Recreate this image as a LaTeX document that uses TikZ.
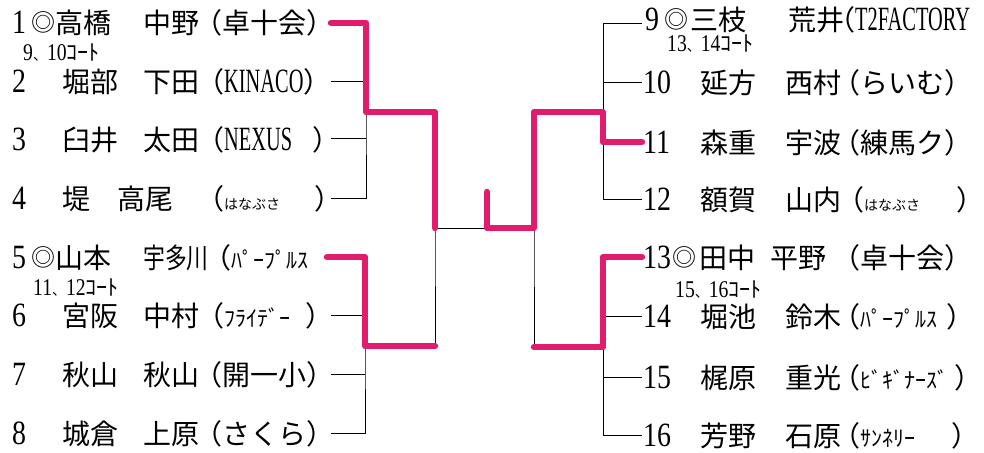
\documentclass[tikz,border=0pt]{standalone}
\usepackage{fontspec}
\setmainfont{Liberation Serif}
\newfontfamily\jp{Noto Sans CJK JP}
\newfontfamily\jpn[FakeStretch=0.78]{Noto Sans CJK JP}
\newfontfamily\num[FakeStretch=0.82]{Liberation Serif}
\newfontfamily\lat[FakeStretch=0.6]{Liberation Serif}
\usetikzlibrary{calc}

\definecolor{marker}{RGB}{226,28,108}
\tikzset{
  txt/.style={anchor=base west, inner sep=0pt, font=\jp\fontsize{28}{28}\selectfont},
  narrow/.style={txt, font=\jpn\fontsize{28}{28}\selectfont},
  seed/.style={anchor=base west, inner sep=0pt, font=\jp\fontsize{24}{24}\selectfont},
  no/.style={anchor=base west, inner sep=0pt, font=\num\fontsize{34}{34}\selectfont},
  court/.style={anchor=base west, inner sep=0pt, font=\num\fontsize{24}{24}\selectfont},
  bracket/.style={line width=0.9pt},
  win/.style={draw=marker, line width=6.5pt, line cap=round, line join=round},
}
\newcommand{\club}[1]{{\lat\fontsize{34}{34}\selectfont #1}}
\newcommand{\kana}[1]{{\jp\fontsize{22}{22}\selectfont #1}}
\newcommand{\hira}[1]{{\jp\fontsize{14}{14}\selectfont #1}}
\newcommand{\courts}[2]{#1{\jp\fontsize{14}{14}\selectfont 、}#2{\jp\fontsize{22}{22}\selectfont ｺｰﾄ}}

\begin{document}
\begin{tikzpicture}[x=1pt,y=-1pt]
		\useasboundingbox (0,0) rectangle (984,452);

		% left half
		\node[no] (n1) at (12,34) {1};
		\node[seed] (m1) at (31,32) {◎};
		\node[txt] (a1) at (55,34) {高橋};
		\node[txt] (b1) at (143,34) {中野};
		\node[txt] (c1) at (194,34) {（卓十会）};
		\node[court] (k1) at (23,60) {\courts{9}{10}};

		\node[no] (n2) at (12,92) {2};
		\node[txt] (a2) at (62,92) {堀部};
		\node[txt] (b2) at (143,92) {下田};
		\node[txt] (c2) at (196,92) {（\club{KINACO}）};

		\node[no] (n3) at (12,150) {3};
		\node[txt] (a3) at (62,150) {臼井};
		\node[txt] (b3) at (143,150) {太田};
		\node[txt] (c3) at (196,150) {（\club{NEXUS}\hspace{20pt}）};

		\node[no] (n4) at (12,209) {4};
		\node[txt] (a4) at (62,209) {堤};
		\node[txt] (b4) at (117,209) {高尾};
		\node[txt] (c4) at (196,209) {（\hira{はなぶさ}\hspace{34pt}）};

		\node[no] (n5) at (12,268) {5};
		\node[seed] (m5) at (31,266) {◎};
		\node[txt] (a5) at (55,268) {山本};
		\node[narrow] (b5) at (143,268) {宇多川};
		\node[txt] (c5) at (203,268) {（\kana{ﾊﾟｰﾌﾟﾙｽ}};
		\node[court] (k5) at (33,295) {\courts{11}{12}};

		\node[no] (n6) at (12,326) {6};
		\node[txt] (a6) at (62,326) {宮阪};
		\node[txt] (b6) at (143,326) {中村};
		\node[txt] (c6) at (196,326) {（\kana{ﾌﾗｲﾃﾞｰ}\hspace{15pt}）};

		\node[no] (n7) at (12,385) {7};
		\node[txt] (a7) at (62,385) {秋山};
		\node[txt] (b7) at (143,385) {秋山};
		\node[txt] (c7) at (194,385) {（開一小）};

		\node[no] (n8) at (12,444) {8};
		\node[txt] (a8) at (62,444) {城倉};
		\node[txt] (b8) at (143,444) {上原};
		\node[txt] (c8) at (194,444) {（さくら）};

		% right half
		\node[no] (n9) at (645,31) {9};
		\node[seed] (m9) at (664,29) {◎};
		\node[txt] (a9) at (690,31) {三枝};
		\node[txt] (b9) at (788,31) {荒井};
		\node[txt] (c9) at (827,31) {（\club{T2FACTORY}};
		\node[court] (k9) at (667,52) {\courts{13}{14}};

		\node[no] (n10) at (643,93) {10};
		\node[txt] (a10) at (700,93) {延方};
		\node[txt] (b10) at (785,93) {西村};
		\node[txt] (c10) at (832,93) {（らいむ）};

		\node[no] (n11) at (643,153) {11};
		\node[txt] (a11) at (700,153) {森重};
		\node[txt] (b11) at (785,153) {宇波};
		\node[txt] (c11) at (832,153) {（練馬ク）};

		\node[no] (n12) at (643,210) {12};
		\node[txt] (a12) at (700,210) {額賀};
		\node[txt] (b12) at (785,210) {山内};
		\node[txt] (c12) at (836,210) {（\hira{はなぶさ}\hspace{36pt}）};

		\node[no] (n13) at (643,268) {13};
		\node[seed] (m13) at (672,266) {◎};
		\node[txt] (a13) at (699,268) {田中};
		\node[txt] (b13) at (770,268) {平野};
		\node[txt] (c13) at (832,268) {（卓十会）};
		\node[court] (k13) at (675,297) {\courts{15}{16}};

		\node[no] (n14) at (643,327) {14};
		\node[txt] (a14) at (700,327) {堀池};
		\node[txt] (b14) at (785,327) {鈴木};
		\node[txt] (c14) at (832,327) {（\kana{ﾊﾟｰﾌﾟﾙｽ}\hspace{9pt}）};

		\node[no] (n15) at (643,388) {15};
		\node[txt] (a15) at (700,388) {梶原};
		\node[txt] (b15) at (785,388) {重光};
		\node[txt] (c15) at (832,388) {（\kana{ﾋﾞｷﾞﾅｰｽﾞ}\hspace{6pt}）};

		\node[no] (n16) at (643,446) {16};
		\node[txt] (a16) at (700,446) {芳野};
		\node[txt] (b16) at (785,446) {石原};
		\node[txt] (c16) at (832,446) {（\kana{ｻﾝﾈﾘｰ}\hspace{36pt}）};

		% bracket
		\coordinate (e1) at (331,23);
		\coordinate (e2) at (331,81);
		\coordinate (e3) at (331,138);
		\coordinate (e4) at (331,198);
		\coordinate (e5) at (327,257);
		\coordinate (e6) at (331,315);
		\coordinate (e7) at (331,374);
		\coordinate (e8) at (331,433);
		\coordinate (e9) at (642,23);
		\coordinate (e10) at (642,82);
		\coordinate (e11) at (642,142);
		\coordinate (e12) at (642,199);
		\coordinate (e13) at (642,257);
		\coordinate (e14) at (642,316);
		\coordinate (e15) at (642,377);
		\coordinate (e16) at (642,435);
		\coordinate (q1) at (366,112);
		\coordinate (q2) at (365,346);
		\coordinate (fl) at (435,228);
		\coordinate (fr) at (534,228);
		\coordinate (rq1) at (603,112);
		\coordinate (rq2) at (603,347);
		\coordinate (top) at (487,192);

		\draw[bracket] (e1) -| (q1) |- (e4);
		\draw[bracket] (e2) -- (e2 -| q1);
		\draw[bracket] (e3) -- (e3 -| q1);
		\draw[bracket] (e5) -| (q2) |- (e8);
		\draw[bracket] (e6) -- (e6 -| q2);
		\draw[bracket] (e7) -- (e7 -| q2);
		\draw[bracket] (q1) -| (fl) |- (q2);
		\draw[bracket] (fl) -- (fr);
		\draw[bracket] (rq1) -| (fr) |- (rq2);
		\draw[bracket] (e9) -| (rq1) |- (e12);
		\draw[bracket] (e10) -- (e10 -| rq1);
		\draw[bracket] (e11) -- (e11 -| rq1);
		\draw[bracket] (e13) -| (rq2) |- (e16);
		\draw[bracket] (e14) -- (e14 -| rq2);
		\draw[bracket] (e15) -- (e15 -| rq2);

		% winners
		\draw[win] (e1) -| (q1) -| (fl);
		\draw[win] (e5) -| (q2) -- (q2 -| fl);
		\draw[win] (top) |- (fr) |- (rq1) |- (e11);
		\draw[win] (fr |- rq2) -- (rq2) |- (e13);
\end{tikzpicture}
\end{document}
